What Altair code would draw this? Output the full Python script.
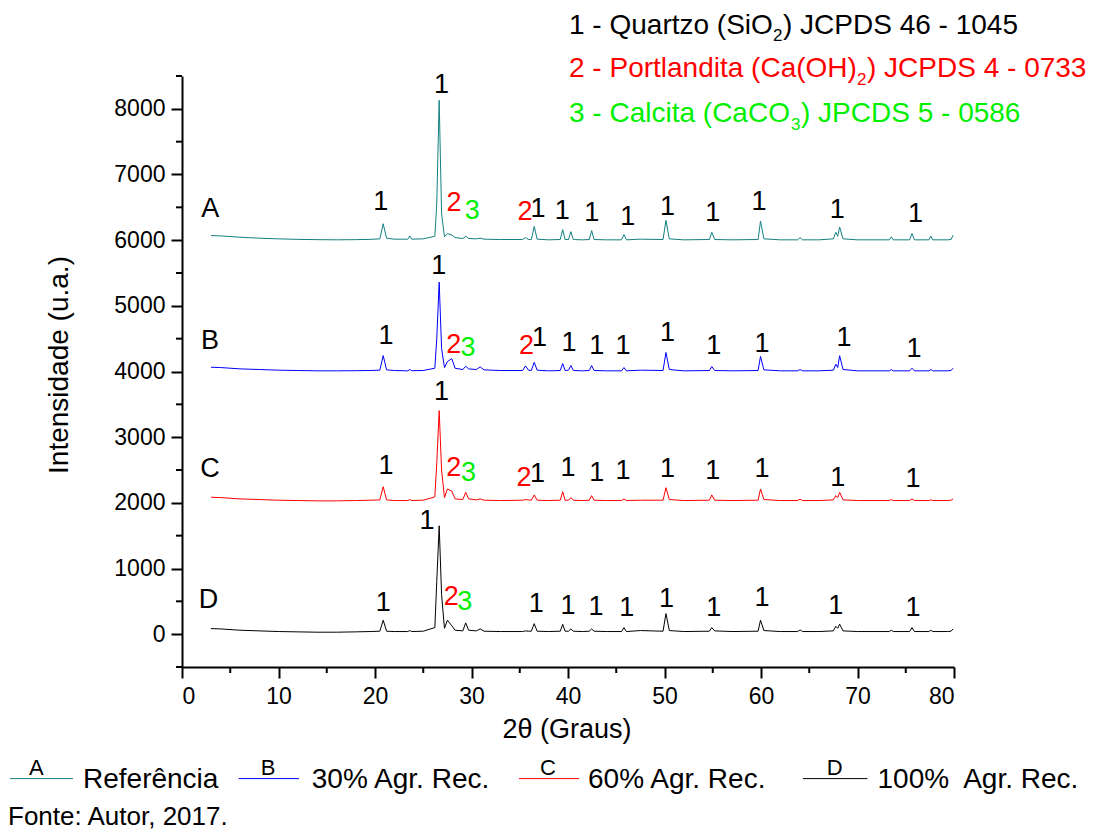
import altair as alt
import pandas as pd

FONT = "Liberation Sans"

# ---------------- data ----------------
two_theta = [3.0, 4.0, 6.0, 8.0, 10.0, 12.0, 14.0, 16.0, 18.0, 19.5,
             20.5, 20.85, 21.2, 22.0, 23.4, 23.6, 23.8, 25.0, 26.2, 26.4,
             26.65, 26.9, 27.2, 27.5, 27.95, 28.3, 29.1, 29.4, 29.7, 30.5,
             30.9, 31.3, 33.0, 35.3, 35.6, 35.9, 36.2, 36.5, 36.8, 38.0,
             39.2, 39.45, 39.7, 40.05, 40.3, 40.55, 41.5, 42.2, 42.45, 42.7,
             44.0, 45.55, 45.8, 46.05, 47.5, 49.85, 50.15, 50.5, 52.0, 54.65,
             54.9, 55.2, 57.0, 59.7, 59.95, 60.3, 62.0, 63.8, 64.05, 64.3,
             66.0, 67.5, 67.75, 67.95, 68.15, 68.5, 70.0, 73.3, 73.5, 73.7,
             75.4, 75.65, 75.9, 77.4, 77.6, 77.8, 79.3, 79.7, 79.9]

int_A = [6070, 6065, 6045, 6030, 6020, 6012, 6008, 6005, 6008, 6012,
         6020, 6250, 6030, 6015, 6015, 6065, 6015, 6020, 6060, 6550,
         8130, 6400, 6050, 6100, 6080, 6040, 6025, 6060, 6025, 6020,
         6030, 6015, 6010, 6010, 6040, 6010, 6010, 6210, 6015, 6005,
         6010, 6160, 6010, 6010, 6130, 6010, 6005, 6010, 6145, 6010,
         6005, 6005, 6085, 6005, 6015, 6010, 6300, 6020, 6005, 6010,
         6120, 6010, 6005, 6010, 6290, 6020, 6005, 6005, 6040, 6005,
         6005, 6020, 6120, 6060, 6200, 6020, 6005, 6005, 6050, 6005,
         6005, 6100, 6005, 6005, 6060, 6005, 6005, 6010, 6075]

int_B = [4065, 4060, 4040, 4030, 4020, 4015, 4010, 4010, 4012, 4015,
         4020, 4242, 4025, 4015, 4010, 4030, 4012, 4015, 4050, 4500,
         5360, 4350, 4060, 4150, 4197, 4050, 4030, 4080, 4040, 4030,
         4070, 4025, 4015, 4015, 4085, 4020, 4015, 4140, 4020, 4010,
         4015, 4120, 4015, 4020, 4090, 4015, 4010, 4015, 4090, 4015,
         4010, 4010, 4060, 4010, 4020, 4015, 4290, 4030, 4010, 4015,
         4075, 4015, 4010, 4015, 4230, 4025, 4010, 4010, 4030, 4010,
         4010, 4020, 4110, 4060, 4240, 4030, 4010, 4010, 4030, 4010,
         4010, 4050, 4010, 4010, 4030, 4010, 4010, 4015, 4050]

int_C = [2085, 2080, 2060, 2050, 2040, 2035, 2030, 2030, 2035, 2040,
         2045, 2245, 2045, 2035, 2035, 2050, 2035, 2040, 2090, 2600,
         3404, 2500, 2080, 2210, 2180, 2060, 2050, 2160, 2060, 2045,
         2060, 2040, 2035, 2040, 2050, 2045, 2040, 2120, 2040, 2035,
         2040, 2170, 2040, 2040, 2080, 2040, 2035, 2040, 2110, 2040,
         2035, 2035, 2060, 2035, 2040, 2040, 2230, 2050, 2035, 2040,
         2120, 2040, 2035, 2040, 2210, 2050, 2035, 2035, 2055, 2035,
         2035, 2045, 2110, 2080, 2160, 2045, 2035, 2035, 2050, 2035,
         2035, 2060, 2035, 2035, 2045, 2035, 2035, 2040, 2060]

int_D = [85, 80, 60, 50, 40, 35, 30, 30, 35, 40,
         45, 213, 45, 40, 40, 55, 40, 45, 100, 800,
         1650, 600, 90, 213, 130, 60, 50, 172, 60, 50,
         80, 45, 40, 40, 50, 45, 45, 160, 45, 40,
         45, 150, 45, 45, 80, 45, 40, 45, 80, 45,
         40, 40, 100, 40, 55, 45, 314, 55, 40, 45,
         100, 50, 40, 45, 213, 55, 40, 40, 65, 40,
         40, 50, 120, 90, 152, 50, 40, 40, 60, 40,
         40, 100, 40, 40, 60, 40, 40, 45, 80]

series_names = ["A", "B", "C", "D"]
series_colors = ["#148080", "#0000ff", "#ff0000", "#000000"]

# peak labels (text, 2theta, intensity)
peak_text = (["A", "1", "1", "2", "3", "2", "1", "1", "1", "1", "1", "1", "1", "1", "1"] +
             ["B", "1", "1", "2", "3", "2", "1", "1", "1", "1", "1", "1", "1", "1", "1"] +
             ["C", "1", "1", "2", "3", "2", "1", "1", "1", "1", "1", "1", "1", "1", "1"] +
             ["D", "1", "1", "2", "3", "1", "1", "1", "1", "1", "1", "1", "1", "1"])
peak_x = ([2.94, 20.6, 26.9, 28.2, 30.07, 35.55, 36.9, 39.4, 42.45, 46.2, 50.3, 55.0, 59.8, 67.9, 76.0] +
          [2.9, 21.15, 26.6, 28.15, 29.65, 35.7, 37.05, 40.1, 42.97, 45.7, 50.3, 55.1, 60.1, 68.6, 75.85] +
          [2.9, 21.15, 26.9, 28.15, 29.7, 35.45, 36.85, 40.0, 42.97, 45.7, 50.3, 55.0, 60.1, 67.95, 75.75] +
          [2.75, 20.85, 25.4, 27.9, 29.3, 36.7, 40.0, 42.9, 46.1, 50.2, 55.1, 60.1, 67.75, 75.75])
peak_y = ([6468, 6575, 8358, 6560, 6437, 6430, 6468, 6437, 6407, 6346, 6498, 6407, 6575, 6452, 6399] +
          [4471, 4547, 5614, 4410, 4364, 4395, 4517, 4433, 4387, 4395, 4593, 4395, 4425, 4517, 4349] +
          [2520, 2566, 3694, 2535, 2459, 2383, 2444, 2535, 2451, 2489, 2520, 2489, 2520, 2383, 2367] +
          [523, 477, 1727, 569, 492, 462, 431, 416, 393, 538, 393, 558, 431, 401])

x_ticks = [0, 10, 20, 30, 40, 50, 60, 70, 80]
x_minor = [5, 15, 25, 35, 45, 55, 65, 75]
y_ticks = [0, 1000, 2000, 3000, 4000, 5000, 6000, 7000, 8000]
y_minor = [-500, 500, 1500, 2500, 3500, 4500, 5500, 6500, 7500, 8500]

legend_names = ["Referência", "30% Agr. Rec.", "60% Agr. Rec.", "100%\u00a0 Agr. Rec."]

# ---------------- layout ----------------
W, H = 772, 591
LEFT, TOP = 182, 76
RIGHT = 1105 - LEFT - W
BOTTOM = 832 - TOP - H

xscale = alt.Scale(domain=[0, 80], nice=False, zero=False)
yscale = alt.Scale(domain=[-500, 8500], nice=False, zero=False)
x_axis = alt.Axis(values=x_ticks, title=None, format="d", tickSize=11,
                  labelPadding=7, labelFontSize=23)
y_axis = alt.Axis(values=y_ticks, title=None, format="d", tickSize=11,
                  labelPadding=6, labelFontSize=23)

rows = []
for name, ys in zip(series_names, [int_A, int_B, int_C, int_D]):
    for xv, yv in zip(two_theta, ys):
        rows.append({"two_theta": xv, "intensity": yv, "series": name})
spec_df = pd.DataFrame(rows)

lines = alt.Chart(spec_df).mark_line(strokeWidth=1).encode(
    x=alt.X("two_theta:Q", scale=xscale, axis=x_axis),
    y=alt.Y("intensity:Q", scale=yscale, axis=y_axis),
    stroke=alt.Stroke("series:N", scale=alt.Scale(domain=series_names, range=series_colors),
                      legend=None),
    detail="series:N",
)

xminor = alt.Chart(pd.DataFrame({"two_theta": x_minor})).mark_rule(
    color="black", strokeWidth=2).encode(
    x=alt.X("two_theta:Q", scale=xscale, axis=x_axis),
    y=alt.value(H), y2=alt.value(H + 6),
)
yminor = alt.Chart(pd.DataFrame({"intensity": y_minor})).mark_rule(
    color="black", strokeWidth=2).encode(
    y=alt.Y("intensity:Q", scale=yscale, axis=y_axis),
    x=alt.value(0), x2=alt.value(-6),
)

peaks_df = pd.DataFrame({"t": peak_text, "two_theta": peak_x, "intensity": peak_y})


def peak_layer(labels, color):
    return alt.Chart(peaks_df).transform_filter(
        alt.FieldOneOfPredicate(field="t", oneOf=labels)
    ).mark_text(font=FONT, fontSize=27, align="center", baseline="middle", color=color).encode(
        x=alt.X("two_theta:Q", scale=xscale, axis=x_axis),
        y=alt.Y("intensity:Q", scale=yscale, axis=y_axis),
        text="t:N",
    )


def txt(s, x, y, size, color="black", align="left", baseline="alphabetic", angle=0):
    return alt.Chart(pd.DataFrame({"t": [s]})).mark_text(
        font=FONT, fontSize=size, color=color, align=align, baseline=baseline, angle=angle
    ).encode(x=alt.value(x - LEFT), y=alt.value(y - TOP), text="t:N")


def seg(x1, x2, y, color):
    return alt.Chart(pd.DataFrame({"a": [0]})).mark_rule(color=color, strokeWidth=1).encode(
        x=alt.value(x1 - LEFT), x2=alt.value(x2 - LEFT), y=alt.value(y - TOP))


GREEN = "#00ee00"
layers = [lines, xminor, yminor,
          peak_layer(["1", "A", "B", "C", "D"], "black"),
          peak_layer(["2"], "#ff0000"),
          peak_layer(["3"], GREEN)]

# axis titles
layers.append(txt("2θ (Graus)", 567, 738, 27, align="center"))
layers.append(txt("Intensidade (u.a.)", 60, 365, 28, align="center", baseline="middle", angle=270))

# phase key at the top
layers += [
    txt("1 - Quartzo (SiO", 569, 33.5, 28),
    txt("2", 773, 41, 17),
    txt(") JCPDS 46 - 1045", 783, 33.5, 28),
    txt("2 - Portlandita (Ca(OH)", 569, 77, 28, color="#ff0000"),
    txt("2", 857, 84.5, 17, color="#ff0000"),
    txt(") JCPDS 4 - 0733", 867, 77, 28, color="#ff0000"),
    txt("3 - Calcita (CaCO", 569, 121.7, 28, color=GREEN),
    txt("3", 791, 129.5, 17, color=GREEN),
    txt(") JPCDS 5 - 0586", 801, 121.7, 28, color=GREEN),
]

# bottom legend
leg_pos = [(10, 73, 36.4, 83), (238.6, 299, 268, 311.8), (519, 579, 548, 588), (803, 867.5, 834.6, 877.5)]
for (x1, x2, xc, xt), name, col, lab in zip(leg_pos, series_names, series_colors, legend_names):
    layers.append(seg(x1, x2, 778.6, col))
    layers.append(txt(name, xc, 774.6, 22, align="center"))
    layers.append(txt(lab, xt, 788, 28))

layers.append(txt("Fonte: Autor, 2017.", 8, 825, 26))

chart = alt.layer(*layers).properties(
    width=W, height=H,
    padding={"left": LEFT, "top": TOP, "right": RIGHT, "bottom": BOTTOM},
    autosize=alt.AutoSizeParams(type="none"),
    background="white",
).configure_view(stroke=None).configure_axis(
    domainColor="black", domainWidth=2, tickColor="black", tickWidth=2,
    labelColor="black", labelFont=FONT, grid=False,
)

chart.save("out.html", embed_options={"renderer": "svg", "actions": False})
